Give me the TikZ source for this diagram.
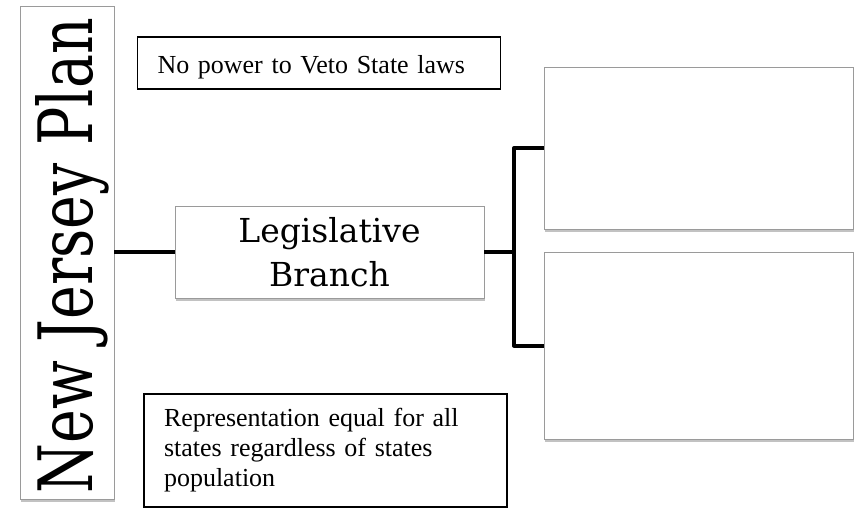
\documentclass[tikz,border=0pt]{standalone}
\usepackage{fontspec}
\setmainfont{Liberation Serif}
\newfontfamily\titlefont{DejaVu Serif}
\usetikzlibrary{shadows}
\definecolor{frame}{HTML}{9A9A9A}

\begin{document}
\begin{tikzpicture}[x=1pt, y=-1pt,
    soft box/.style={draw=frame, line width=0.9pt, fill=white, inner sep=0pt,
      drop shadow={shadow xshift=1.2pt, shadow yshift=-2.8pt, opacity=0.4, fill=black!60}},
    note box/.style={draw=black, line width=1.3pt, fill=white, inner xsep=20pt, inner ysep=0pt,
      align=left, font=\fontsize{26}{30}\selectfont},
    link/.style={line width=4pt, line join=round}]
    \useasboundingbox (0,0) rectangle (857,507);
    \node[soft box, minimum width=94pt, minimum height=493pt] (plan) at (67,252.5)
      {\rotatebox{90}{\raisebox{-5pt}[\height][\depth]{\scalebox{0.76}[1]{\titlefont\fontsize{75}{75}\selectfont New Jersey Plan\kern8pt}}}};
    \node[soft box, minimum width=309pt, minimum height=92pt, align=center,
      font=\titlefont\fontsize{33}{44}\selectfont] (leg) at (329.5,252) {Legislative\\Branch};
    \node[soft box, minimum width=309pt, minimum height=162pt] (upper) at (698.5,148) {};
    \node[soft box, minimum width=309pt, minimum height=187pt] (lower) at (698.5,345.5) {};
    \node[note box, text width=323pt, minimum height=52pt, text height=22pt, text depth=2pt] (veto) at (319,63)
      {No power to Veto State laws};
    \node[note box, text width=323pt, minimum height=113pt] (repr) at (325.5,450.5)
      {Representation equal for all\\states regardless of states\\population};
    \coordinate (fork) at (514,252);
    \draw[link] (leg.west -| plan.east) -- (leg.west);
    \draw[link] (leg.east) -- (fork);
    \draw[link] (upper.west) -| (fork) |- (lower.west);
\end{tikzpicture}
\end{document}
